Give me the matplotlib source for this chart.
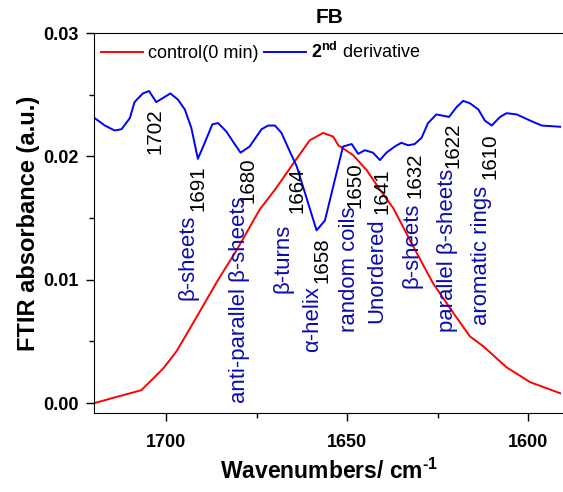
import numpy as np
import matplotlib
matplotlib.use("Agg")
import matplotlib.pyplot as plt
from matplotlib.ticker import MultipleLocator

plt.rcParams["font.family"] = ["Liberation Sans", "DejaVu Sans"]
plt.rcParams["mathtext.fontset"] = "custom"
plt.rcParams["mathtext.rm"] = "Liberation Sans"
plt.rcParams["mathtext.bf"] = "Liberation Sans:bold"

# control spectrum (0 min)
wn_ctrl = [1719.9, 1714.3, 1706.9, 1700.9, 1697.2, 1692.6, 1685.7, 1680.6, 1674.2,
           1670.0, 1665.0, 1660.4, 1656.7, 1653.9, 1652.5, 1648.4, 1644.7, 1641.0,
           1637.3, 1631.8, 1626.3, 1620.7, 1616.1, 1612.4, 1606.0, 1599.5, 1591.2]
abs_ctrl = [0.0000, 0.00046, 0.00105, 0.0028, 0.0042, 0.0065, 0.0100, 0.0124, 0.0157,
            0.0173, 0.0194, 0.0213, 0.0219, 0.0216, 0.0209, 0.0201, 0.0189, 0.0173,
            0.0158, 0.0127, 0.0097, 0.0073, 0.0054, 0.0046, 0.0029, 0.0017, 0.0008]

# second derivative (offset)
wn_d2 = [1719.8, 1717.0, 1714.3, 1712.4, 1710.1, 1708.8, 1706.5, 1704.8, 1702.8,
         1698.9, 1696.8, 1694.9, 1693.1, 1691.3, 1689.4, 1687.3, 1685.7, 1683.4,
         1681.6, 1679.5, 1677.0, 1673.7, 1671.9, 1670.0, 1668.2, 1665.9, 1664.0,
         1658.5, 1656.2, 1651.2, 1648.8, 1647.0, 1645.2, 1642.9, 1641.0, 1639.2,
         1636.9, 1635.1, 1633.2, 1631.4, 1629.5, 1627.7, 1625.4, 1621.9, 1619.8,
         1618.0, 1616.1, 1613.8, 1612.0, 1610.1, 1607.8, 1606.0, 1603.2, 1599.5,
         1596.3, 1591.2]
abs_d2 = [0.0231, 0.0225, 0.0221, 0.0222, 0.0231, 0.0244, 0.0251, 0.0253, 0.0244,
          0.0251, 0.0246, 0.0238, 0.0223, 0.0198, 0.0211, 0.0226, 0.0227, 0.0220,
          0.0212, 0.0203, 0.0208, 0.0222, 0.0225, 0.0225, 0.0219, 0.0204, 0.0192,
          0.0140, 0.0148, 0.0208, 0.0210, 0.0202, 0.0205, 0.0203, 0.0197, 0.0203,
          0.0208, 0.0211, 0.0209, 0.0210, 0.0215, 0.0227, 0.0234, 0.0232, 0.0240,
          0.0245, 0.0243, 0.0238, 0.0229, 0.0225, 0.0232, 0.0235, 0.0234, 0.0229,
          0.0225, 0.0224]

# peak numbers
peak_labels = ["1702", "1691", "1680", "1664", "1658", "1650", "1641", "1632", "1622", "1610"]
peak_x = [1703.2, 1691.2, 1677.4, 1663.8, 1657.1, 1648.0, 1640.5, 1631.4, 1620.9, 1610.7]
peak_y = [0.02392, 0.01930, 0.01995, 0.01914, 0.01346, 0.01954, 0.01905, 0.02035, 0.02278, 0.02189]

# band assignments
band_labels = ["β-sheets", "anti-parallel β-sheets", "β-turns", "α-helix", "random coils",
               "Unordered", "β-sheets", "parallel β-sheets", "aromatic rings"]
band_x = [1694.1, 1679.9, 1667.8, 1659.6, 1649.4, 1641.9, 1632.2, 1622.3, 1612.9]
band_y = [0.00835, 0.0000, 0.00892, 0.00414, 0.00576, 0.00649, 0.00932, 0.00576, 0.00632]

fig = plt.figure(figsize=(5.63, 4.92), dpi=100)
ax = fig.add_axes([94 / 563, 1 - 413 / 492, 470.5 / 563, 380 / 492])

ax.plot(wn_ctrl, abs_ctrl, color="red", lw=1.4, label="control(0 min)")
ax.plot(wn_d2, abs_d2, color="blue", lw=1.4, label=r"$\mathbf{2^{nd}}$ derivative")

for lab, x, y in zip(peak_labels, peak_x, peak_y):
    ax.text(x, y, lab, rotation=90, ha="center", va="top", fontsize=14.8, color="black")

for lab, x, y in zip(band_labels, band_x, band_y):
    ax.text(x, y, lab, rotation=90, ha="center", va="bottom", fontsize=15.9, color="#0c0cac")

ax.set_xlim(1720, 1590)
ax.set_ylim(-0.0008, 0.03)
ax.xaxis.set_major_locator(MultipleLocator(50))
ax.xaxis.set_minor_locator(MultipleLocator(25))
ax.yaxis.set_major_locator(MultipleLocator(0.01))
ax.yaxis.set_minor_locator(MultipleLocator(0.005))
ax.yaxis.set_major_formatter(matplotlib.ticker.FormatStrFormatter("%.2f"))
ax.tick_params(which="major", direction="out", length=6, width=1, labelsize=13)
ax.tick_params(axis="x", which="major", pad=9)
ax.tick_params(axis="y", which="major", pad=5)
ax.tick_params(which="minor", direction="out", length=3.5, width=1)
for lbl in ax.get_xticklabels() + ax.get_yticklabels():
    lbl.set_fontweight("bold")

ax.set_xlabel("Wavenumbers/ cm$^{\\mathbf{\u2010}\\mathbf{1}}$", fontsize=16.5, fontweight="bold", labelpad=6)
ax.set_ylabel("FTIR absorbance (a.u.)", fontsize=17, fontweight="bold", labelpad=2)
ax.set_title("FB", fontsize=15, fontweight="bold", pad=7)

ax.legend(loc="upper left", ncol=2, frameon=False, fontsize=13, handlelength=2.3,
          handletextpad=0.3, columnspacing=0.3, borderaxespad=0.0,
          bbox_to_anchor=(0.0, 0.995))

fig.savefig("out.png", dpi=100)
